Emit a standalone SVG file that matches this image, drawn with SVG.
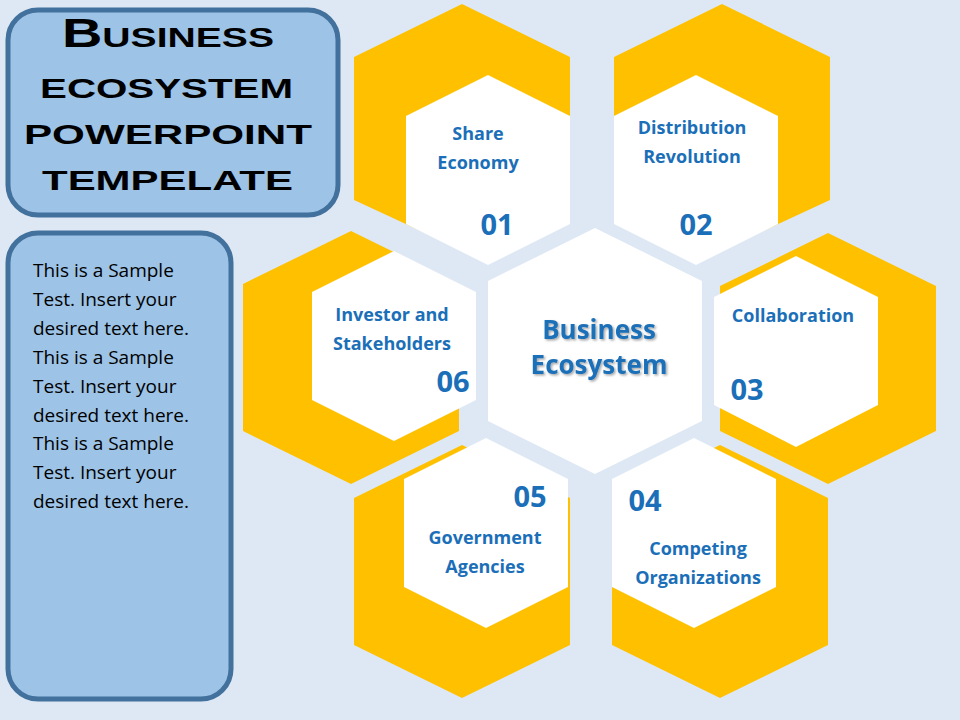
<svg xmlns="http://www.w3.org/2000/svg" width="960" height="720" viewBox="0 0 960 720">
<defs>
<style>
.y{fill:#ffc000}
.w{fill:#fff}
.lb{font-family:"Open Sans","Liberation Sans",sans-serif;font-weight:bold;font-size:18px;fill:#1b6fb8;text-anchor:middle}
.num{font-family:"Open Sans","Liberation Sans",sans-serif;font-weight:bold;font-size:29px;fill:#1b6fb8;text-anchor:middle}
.box{fill:#9dc3e6;stroke:#41719c;stroke-width:5}
</style>
<filter id="sh"><feDropShadow dx="1.5" dy="1.5" stdDeviation="1" flood-color="#000" flood-opacity="0.35"/></filter>
</defs>
<rect width="960" height="720" fill="#dde8f4"/>
<g id="title">
<rect class="box" x="8" y="10" width="330" height="205" rx="30"/>
<g font-family="Liberation Sans,sans-serif" font-weight="bold" font-size="40" fill="#000" style="font-variant:small-caps" lengthAdjust="spacingAndGlyphs">
<text x="62" y="47" textLength="212" lengthAdjust="spacingAndGlyphs">Business</text>
<text x="40" y="98" textLength="253" lengthAdjust="spacingAndGlyphs">ecosystem</text>
<text x="24" y="144" textLength="288" lengthAdjust="spacingAndGlyphs">powerpoint</text>
<text x="42" y="190" textLength="251" lengthAdjust="spacingAndGlyphs">tempelate</text>
</g>
</g>
<g id="sample">
<rect class="box" x="8" y="233" width="223" height="466" rx="30"/>
<g font-family="Open Sans,Liberation Sans,sans-serif" font-size="19" fill="#000">
<text x="33" y="277">This is a Sample</text>
<text x="33" y="306">Test. Insert your</text>
<text x="33" y="335">desired text here.</text>
<text x="33" y="364">This is a Sample</text>
<text x="33" y="393">Test. Insert your</text>
<text x="33" y="422">desired text here.</text>
<text x="33" y="450">This is a Sample</text>
<text x="33" y="479">Test. Insert your</text>
<text x="33" y="508">desired text here.</text>
</g>
</g>
<g id="yellows">
<polygon class="y" points="462,4 570,57 570,200 462,250 354,200 354,57"/>
<polygon class="y" points="722,4 830,57 830,200 722,250 614,200 614,57"/>
<polygon class="y" points="828,233 936,286 936,431 828,484 720,431 720,286"/>
<polygon class="y" points="720,445 828,498 828,645 720,698 612,645 612,498"/>
<polygon class="y" points="462,445 570,498 570,645 462,698 354,645 354,498"/>
<polygon class="y" points="351,231 459,284 459,431 351,484 243,431 243,284"/>
</g>
<g id="node01"><polygon class="w" points="488,75 570,116 570,224 488,265 406,224 406,116"/>
<text class="lb" x="478" y="140">Share</text><text class="lb" x="478" y="169">Economy</text><text class="num" x="497" y="235">01</text></g>
<g id="node02"><polygon class="w" points="696,75 778,116 778,224 696,265 614,224 614,116"/>
<text class="lb" x="692" y="134">Distribution</text><text class="lb" x="692" y="163">Revolution</text><text class="num" x="696" y="235">02</text></g>
<g id="node03"><polygon class="w" points="796,256 878,297 878,405 796,447 714,405 714,297"/>
<text class="lb" x="793" y="322">Collaboration</text><text class="num" x="747" y="400">03</text></g>
<g id="node04"><polygon class="w" points="694,438 776,479 776,587 694,628 612,587 612,479"/>
<text class="lb" x="698" y="555">Competing</text><text class="lb" x="698" y="584">Organizations</text><text class="num" x="645" y="511">04</text></g>
<g id="node05"><polygon class="w" points="486,438 568,479 568,587 486,628 404,587 404,479"/>
<text class="lb" x="485" y="544">Government</text><text class="lb" x="485" y="573">Agencies</text><text class="num" x="530" y="507">05</text></g>
<g id="node06"><polygon class="w" points="394,251 476,292 476,400 394,441 312,400 312,292"/>
<text class="lb" x="392" y="321">Investor and</text><text class="lb" x="392" y="350">Stakeholders</text><text class="num" x="453" y="392">06</text></g>
<g id="center"><polygon class="w" points="595,228 702,281 702,421 595,474 488,421 488,281"/>
<g filter="url(#sh)" font-family="Open Sans,Liberation Sans,sans-serif" font-weight="bold" font-size="26" fill="#1b6fb8" text-anchor="middle">
<text x="599" y="339">Business</text><text x="599" y="374">Ecosystem</text></g></g>
<g id="connectors"/>
</svg>
